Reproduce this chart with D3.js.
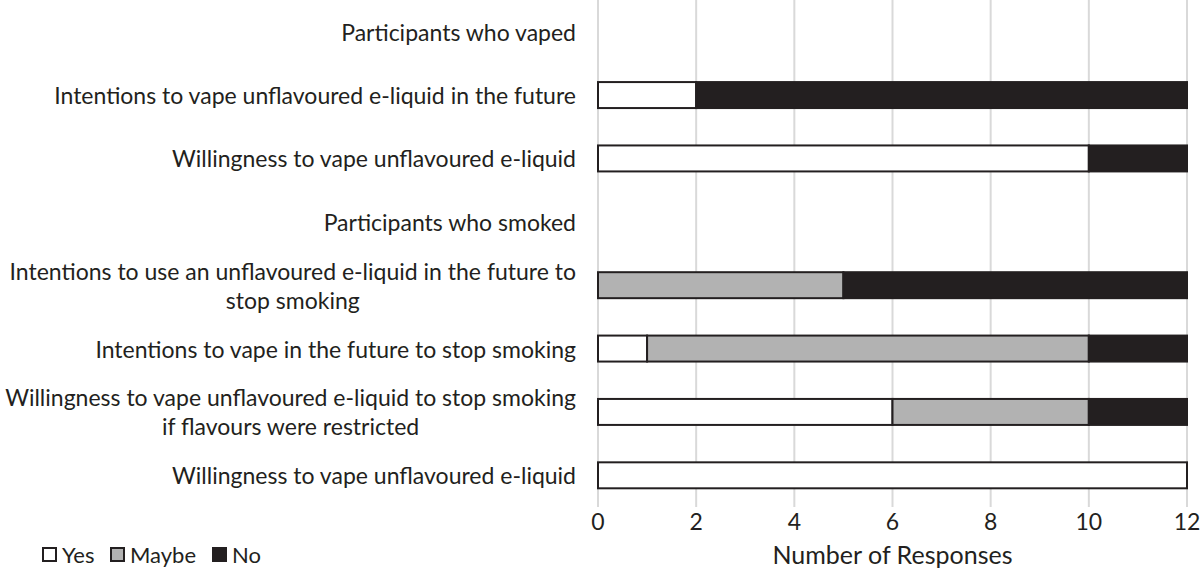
<!DOCTYPE html>
<html><head><meta charset="utf-8">
<script src="https://cdn.jsdelivr.net/npm/d3@7/dist/d3.min.js"></script>
<style>body{margin:0;background:#fff}svg{display:block}text{font-family:Lato,"Open Sans",sans-serif;fill:#231f20}</style>
</head><body>
<svg id="c" width="1200" height="574"></svg>
<script>
const categories = [
  ["Participants who vaped"],
  ["Intentions to vape unflavoured e-liquid in the future"],
  ["Willingness to vape unflavoured e-liquid"],
  ["Participants who smoked"],
  ["Intentions to use an unflavoured e-liquid in the future to", "stop smoking"],
  ["Intentions to vape in the future to stop smoking"],
  ["Willingness to vape unflavoured e-liquid to stop smoking", "if flavours were restricted"],
  ["Willingness to vape unflavoured e-liquid"]
];
const yesValues   = [null, 2, 10, null, 0, 1, 6, 12];
const maybeValues = [null, 0, 0,  null, 5, 9, 4, 0];
const noValues    = [null, 10, 2, null, 7, 2, 2, 0];
const seriesNames = ["Yes", "Maybe", "No"];
const seriesColors = ["#ffffff", "#b2b2b2", "#231f20"];
const xTicks = [0, 2, 4, 6, 8, 10, 12];
const axisTitle = "Number of Responses";

const svg = d3.select("#c");
const x = d3.scaleLinear().domain([0, 12]).range([598, 1187]);
const y = d3.scaleBand().domain(d3.range(categories.length)).range([0, 507]).paddingInner(0.59).paddingOuter(0.295);

// gridlines
svg.append("g").selectAll("line").data(xTicks).join("line")
  .attr("x1", d => x(d)).attr("x2", d => x(d)).attr("y1", 0).attr("y2", 507)
  .attr("stroke", "#d9d9d9").attr("stroke-width", 2);

// stacked data
const rows = categories.map((c, i) => ({i, Yes: yesValues[i], Maybe: maybeValues[i], No: noValues[i]}))
  .filter(r => r.Yes !== null);
const stack = d3.stack().keys(seriesNames)(rows);
const g = svg.append("g");
stack.forEach((layer, k) => {
  g.selectAll(null).data(layer.filter(d => d[1] - d[0] > 0)).join("rect")
    .attr("x", d => x(d[0])).attr("width", d => x(d[1]) - x(d[0]))
    .attr("y", d => y(d.data.i)).attr("height", y.bandwidth())
    .attr("fill", seriesColors[k]).attr("stroke", "#231f20").attr("stroke-width", 2);
});

// x axis labels
svg.append("g").selectAll("text").data(xTicks).join("text")
  .attr("x", d => x(d)).attr("y", 521).attr("text-anchor", "middle").attr("dominant-baseline", "central")
  .attr("font-size", 23).text(d => d);
svg.append("text").attr("x", x(6)).attr("y", 554).attr("text-anchor", "middle").attr("dominant-baseline", "central")
  .attr("font-size", 25).text(axisTitle);

// category labels
const fs = 23;
const lab = svg.append("g");
categories.forEach((lines, i) => {
  const cy = y(i) + y.bandwidth() / 2;
  if (lines.length === 1) {
    lab.append("text").attr("x", 576).attr("y", cy).attr("text-anchor", "end").attr("dominant-baseline", "central")
      .attr("font-size", fs).text(lines[0]);
  } else {
    const t1 = lab.append("text").attr("x", 576).attr("y", cy - 14.5).attr("text-anchor", "end").attr("dominant-baseline", "central")
      .attr("font-size", fs).text(lines[0]);
    const w = t1.node().getComputedTextLength();
    lab.append("text").attr("x", 576 - w / 2).attr("y", cy + 14.5).attr("text-anchor", "middle").attr("dominant-baseline", "central")
      .attr("font-size", fs).text(lines[1]);
  }
});

// legend
const legX = [43, 111, 213];
const leg = svg.append("g");
seriesNames.forEach((s, k) => {
  leg.append("rect").attr("x", legX[k]).attr("y", 548).attr("width", 13).attr("height", 13)
    .attr("fill", seriesColors[k]).attr("stroke", "#231f20").attr("stroke-width", 2);
  leg.append("text").attr("x", legX[k] + 19).attr("y", 554).attr("dominant-baseline", "central")
    .attr("font-size", 22).text(s);
});
</script>
</body></html>
